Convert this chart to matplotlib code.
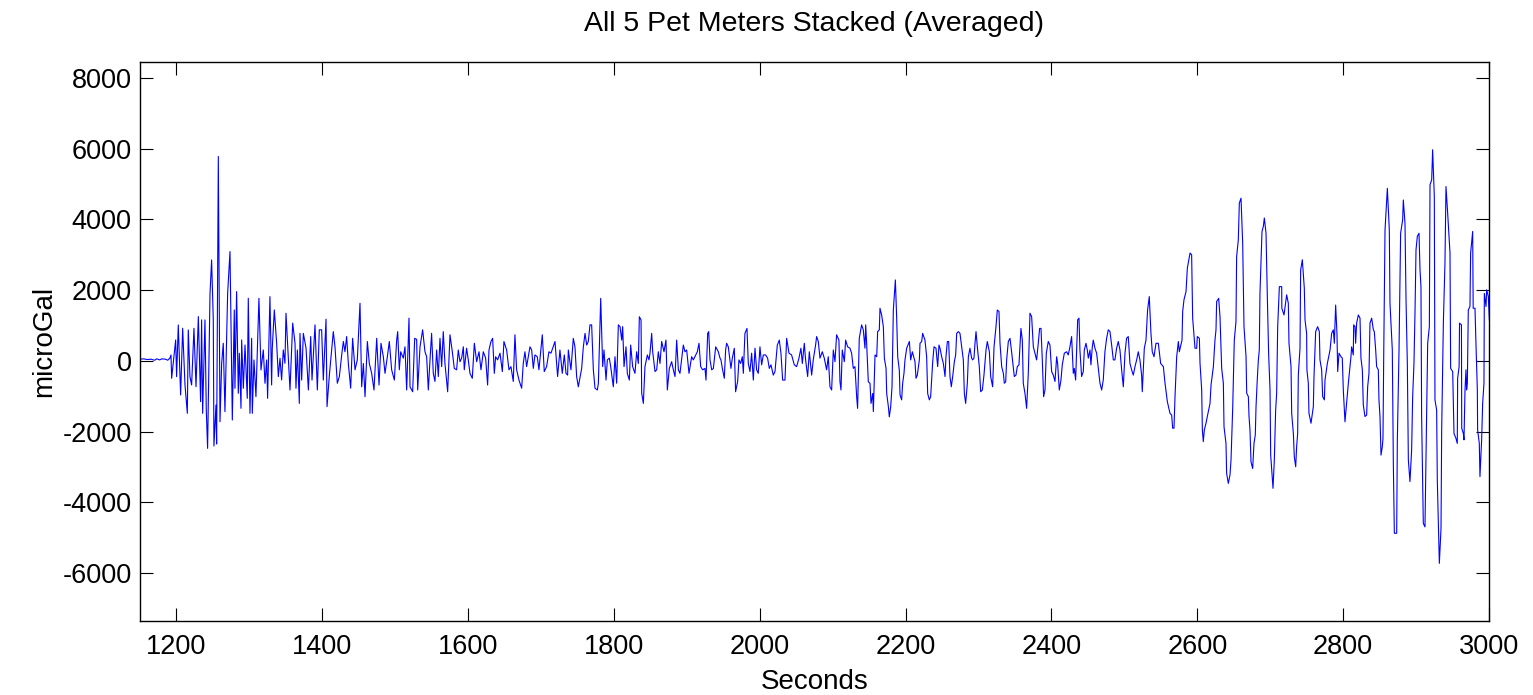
import numpy as np
import matplotlib
matplotlib.use("Agg")
import matplotlib.pyplot as plt

plt.rcParams['font.family'] = ['Liberation Sans', 'DejaVu Sans']
plt.rcParams['axes.unicode_minus'] = False

# (seconds, microGal) vertices, segment by segment
seg_start = [(1150, 50), (1155, 60), (1160, 40), (1165, 50), (1170, 20), (1173, 60), (1177, 30),
             (1180, 60), (1185, 50), (1188, 20), (1191, 80),
             (1192.5, 170), (1193.4, -490), (1197.0, 217), (1198.9, 594), (1200.2, -443), (1202.5, 1018),
             (1205.7, -962), (1208.5, 924), (1211.7, -679), (1214.9, -1480), (1216.2, 877), (1218.5, -443),
             (1220.8, -679), (1224.0, 924), (1226.8, -726), (1230.0, 1254), (1233.1, -1150), (1234.5, 1160),
             (1235.9, -1480), (1239.1, 1160), (1240.9, -1386), (1242.7, -2470), (1246.0, 1895), (1248.2, 2856),
             (1250.5, 1160), (1251.4, -2404), (1254.2, -1245), (1255.1, -2347), (1257.4, 5779), (1259.7, -1716),
             (1262.0, -66), (1264.2, 500), (1266.5, -1433), (1270.2, 1914), (1273.4, 3092), (1276.6, -1669),
             (1279.3, 1442), (1280.2, -773), (1282.5, 1961), (1284.8, -915), (1286.2, 217), (1288.5, -1339),
             (1289.4, 594), (1291.7, -773), (1294.0, 452), (1297.1, -1056), (1298.5, 1772), (1300.8, -1480),
             (1303.1, 641), (1304.0, -1480), (1306.3, 28), (1309.0, -1009), (1313.1, 1772), (1315.9, -255),
             (1319.1, 311), (1321.4, -632), (1323.7, 28), (1325.0, -1056), (1328.2, 1819), (1330.5, -679),
             (1331.4, 358), (1334.2, 1442), (1337.4, 500), (1339.7, -443), (1342.0, 75), (1344.2, -537),
             (1346.5, 311), (1348.8, -66)]

seg_1350 = [(1350.2, 1350), (1355.7, -820), (1359.4, 1070), (1362.6, 500), (1363.9, -770), (1365.8, 310),
            (1368.5, -1200), (1369.4, 780), (1371.7, -540), (1374.0, 780), (1377.7, 360), (1380.9, -820),
            (1384.1, 690), (1385.9, -540), (1390.0, 1020), (1393.2, -820), (1395.9, 880), (1399.1, 880),
            (1401.4, -540), (1405.1, 1180), (1406.5, -1290), (1409.7, -400), (1415.1, 830), (1417.4, 400),
            (1420.6, -630), (1423.4, -440), (1426.6, 170), (1428.9, 550), (1431.1, 260), (1433.4, 690),
            (1435.7, -70), (1438.9, -770), (1441.6, 640), (1444.9, -250), (1448.0, 30), (1451.7, 1630),
            (1454.0, -730), (1456.3, -70), (1458.6, -1010), (1461.8, 550), (1464.5, -70), (1467.7, -350),
            (1470.9, -820), (1474.6, 640), (1477.8, -680), (1480.5, 500), (1483.7, 120), (1486.0, -350),
            (1489.2, 120), (1491.9, 550), (1495.1, -250), (1498.8, -540), (1502.0, 590), (1503.4, 830),
            (1505.6, -250), (1507.5, 260), (1511.1, 80), (1513.4, 400), (1515.7, -820), (1518.9, 1210),
            (1520.3, -730), (1523.9, -870), (1526.7, 640), (1529.4, 610), (1530.8, -820), (1534.0, 400),
            (1537.6, 880), (1540.8, 260), (1543.1, 120), (1545.4, -820), (1547.7, 30)]

seg_1550 = [(1549.9, 780), (1552.2, -350), (1554.5, -580), (1556.8, 310), (1559.1, -440), (1561.4, 640),
            (1563.7, -160), (1565.9, 830), (1568.2, -70), (1571.9, -870), (1575.1, 740), (1578.3, 260),
            (1581.0, -210), (1584.2, -250), (1586.5, 310), (1588.8, -20), (1591.1, 80), (1593.4, 400),
            (1594.7, -250), (1597.9, 360), (1600.2, 30), (1602.5, -350), (1605.7, -490), (1608.5, 500),
            (1611.7, -20), (1614.9, 260), (1617.6, -250), (1620.8, 260), (1624.0, 80), (1626.7, -680),
            (1628.6, 310), (1631.3, 550), (1633.6, 640), (1635.9, -350), (1637.7, 120), (1640.4, 30),
            (1643.7, 220), (1646.9, -300), (1649.1, 550), (1652.8, 310), (1656.0, -250), (1658.7, -160),
            (1661.9, -580), (1664.2, 740), (1666.5, -250), (1669.7, -540), (1673.4, -770), (1675.6, -70),
            (1677.9, 260), (1680.2, -160), (1682.5, 120), (1684.8, 400), (1687.1, 310), (1689.4, -210),
            (1691.6, 170), (1694.8, 120), (1697.1, -250), (1701.7, 740), (1704.4, -300), (1707.6, -160),
            (1710.8, 260), (1713.6, 220), (1715.9, 360), (1719.1, 550), (1722.7, -440), (1725.9, 310),
            (1729.1, -350), (1731.9, 170), (1734.2, -350), (1736.4, -400), (1737.4, 310), (1741.0, -250),
            (1744.2, 640), (1746.5, 400)]

seg_1750 = [(1748.8, -440), (1751.1, -730), (1755.7, -210), (1758.0, 400), (1760.3, 780), (1762.6, 450),
            (1764.8, 550), (1767.1, 1020), (1769.4, 1020), (1771.7, -250), (1774.0, -770), (1777.2, -820),
            (1778.6, -630), (1781.8, 1770), (1784.5, -160), (1786.3, 310), (1789.1, -540), (1790.9, 30),
            (1793.6, 80), (1795.5, -160), (1799.1, -730), (1801.4, 120), (1803.7, -630), (1806.0, 1020),
            (1808.3, 970), (1810.6, 590), (1811.9, 970), (1813.8, -160), (1816.5, 400), (1818.3, -350),
            (1821.1, -540), (1822.9, 450), (1825.6, -160), (1828.8, -350), (1831.1, 260), (1833.4, -70),
            (1834.8, 1250), (1837.1, 1160), (1838.0, -910), (1840.3, -1200), (1842.5, -160), (1845.8, 170),
            (1848.0, 30), (1849.4, 220), (1851.7, 780), (1853.1, 260), (1856.3, -300), (1858.6, -250),
            (1860.8, 260), (1863.1, -70), (1865.4, 550), (1868.6, 260), (1871.3, 590), (1873.2, -820),
            (1875.9, -210), (1879.1, -20), (1881.4, -250), (1883.7, -440), (1886.0, 590), (1888.3, -250),
            (1890.5, -350), (1895.1, 450), (1897.4, 260), (1899.7, 310), (1902.9, -350), (1906.5, 120),
            (1908.8, 30), (1914.3, 260), (1916.6, 500), (1918.9, -160), (1921.6, -250), (1924.8, -210),
            (1926.2, -540), (1928.5, 780), (1929.9, 830), (1931.7, 30), (1934.0, -250), (1936.3, -210),
            (1939.5, 400), (1943.1, 260), (1945.4, 80)]

seg_1950 = [(1946.7, 30), (1948.6, -210), (1951.3, -490), (1953.1, 310), (1954.5, 500), (1956.8, 400),
            (1960.4, -210), (1962.3, 80), (1965.0, 360), (1966.8, -870), (1969.6, -580), (1971.4, 30),
            (1973.7, -70), (1976.0, 120), (1977.4, -350), (1979.6, 780), (1982.4, 920), (1984.2, -70),
            (1986.5, -300), (1988.8, 220), (1991.1, -540), (1993.4, 360), (1995.6, -250), (1997.9, -350),
            (2000.2, 400), (2002.5, -110), (2004.8, 170), (2008.0, 170), (2010.7, 80), (2013.0, -210),
            (2015.3, -110), (2018.5, -400), (2020.8, -300), (2024.0, 450), (2026.7, 590), (2029.0, 220),
            (2031.3, -540), (2034.5, -540), (2036.8, 640), (2040.0, 220), (2043.6, 170), (2047.3, -110),
            (2050.5, -160), (2053.7, 80), (2056.4, 360), (2058.3, -70), (2061.0, 500), (2062.8, 30),
            (2065.6, -440), (2067.9, 260), (2071.1, -400), (2073.3, 30), (2076.5, 450), (2077.9, 690),
            (2080.2, 550), (2082.5, 80), (2085.7, 260), (2088.4, 80), (2091.6, -250), (2093.9, 120),
            (2096.2, -730), (2098.5, -820), (2100.8, 310), (2103.1, -20), (2105.3, 740), (2108.5, 590),
            (2109.9, -580), (2111.3, -820), (2113.1, 310), (2115.9, -20), (2117.7, 590), (2120.4, 400),
            (2123.6, 360), (2125.9, 220), (2128.2, -210), (2130.5, -160), (2132.8, -1010), (2134.1, -1340),
            (2136.4, 640), (2139.6, 1020), (2141.9, 880), (2144.2, 360)]

seg_2145 = [(2145.2, 1020), (2146.5, 500), (2148.8, -590), (2151.1, -630), (2152.5, -1200), (2154.8, -920),
            (2155.7, -1430), (2158.0, 170), (2160.3, 120), (2161.6, 830), (2163.9, 880), (2164.8, 1490),
            (2167.1, 1300), (2169.4, 970), (2170.8, 80), (2173.1, -210), (2174.0, -920), (2176.3, -1290),
            (2177.6, -1580), (2179.5, -1290), (2181.3, -730), (2183.1, 1440), (2185.9, 2290), (2187.7, 1210),
            (2189.1, 120), (2191.3, -260), (2192.3, -960), (2194.5, -1100), (2195.9, -630), (2197.7, -350),
            (2199.1, 30), (2201.4, 360), (2205.1, 550), (2206.9, 30), (2209.2, 260), (2212.8, -20),
            (2214.2, -490), (2216.0, -400), (2218.8, 30), (2219.7, 500), (2222.0, 550), (2223.3, 780),
            (2226.5, 590), (2228.8, 120), (2230.2, -920), (2232.5, -1100), (2234.3, -1010), (2237.1, -20),
            (2238.9, 400), (2241.6, 360), (2243.9, -160), (2245.7, 450), (2247.1, 360), (2249.4, 120),
            (2251.7, -70), (2254.0, -440), (2255.3, 120), (2257.2, 550), (2259.0, 550), (2260.8, -440),
            (2262.6, -730), (2264.5, -440), (2266.8, -20), (2268.6, 170), (2270.0, 780), (2272.2, 830),
            (2274.5, 780), (2276.8, 400), (2279.1, 30), (2280.5, -920), (2282.3, -1200), (2284.6, -630),
            (2286.0, 120), (2288.2, 360), (2290.5, 80), (2291.9, 30), (2293.7, 80), (2295.1, 500),
            (2296.5, 830), (2298.3, 400), (2301.0, -160), (2302.9, -870), (2305.2, -820), (2307.4, -400),
            (2310.2, 310), (2312.0, 550), (2314.8, 260), (2316.6, -440), (2319.3, -730), (2321.2, 400),
            (2323.9, 970), (2325.7, 1440), (2328.0, 1400), (2329.4, 500), (2331.7, -160), (2334.0, -350),
            (2335.3, -630), (2337.2, -590), (2338.5, 30), (2340.8, 550), (2343.1, 640)]

seg_2345 = [(2345.3, 260), (2349.0, -440), (2351.3, -400), (2353.1, -160), (2355.4, -110), (2358.1, 920),
            (2360.0, 590), (2361.3, -630), (2363.6, -910), (2365.9, -1340), (2368.2, -350), (2370.5, 1350),
            (2372.8, 1250), (2375.1, 400), (2377.3, 220), (2379.6, 30), (2381.9, 500), (2383.7, 920),
            (2385.6, 920), (2387.4, 30), (2389.2, -1010), (2391.1, -820), (2392.9, 220), (2395.6, 550),
            (2397.9, 450), (2400.2, -300), (2402.5, -400), (2404.8, -580), (2407.1, 120), (2408.4, -70),
            (2410.7, -820), (2413.0, -540), (2414.8, -110), (2417.6, 220), (2420.8, 260), (2423.0, 170),
            (2425.3, 400), (2427.6, 690), (2429.9, -350), (2431.3, -210), (2433.1, -540), (2434.5, 310),
            (2435.9, 1160), (2437.7, 1210), (2439.0, 310), (2441.3, -440), (2443.6, -300), (2445.0, 310),
            (2447.3, 500), (2449.1, 310), (2450.5, 80), (2452.8, 310), (2454.1, -110), (2456.0, 400),
            (2457.3, 590), (2459.6, 360), (2461.9, 220), (2464.2, -210), (2466.5, -630), (2468.8, -820),
            (2471.0, -540), (2473.3, 260), (2475.6, 640), (2477.9, 880), (2480.2, 830), (2482.5, 450),
            (2484.8, 30), (2487.0, 30), (2489.3, 360), (2491.6, 550), (2493.9, 310), (2496.2, -250),
            (2498.5, -730), (2500.8, 220), (2503.0, 640), (2505.3, 690), (2507.6, -70), (2509.9, -250),
            (2512.2, -400), (2514.5, -160), (2516.8, 30), (2519.0, 260), (2521.3, 30), (2523.6, -400),
            (2524.5, -870), (2527.3, 360), (2529.6, 590), (2531.8, 1440), (2534.1, 1820), (2536.4, 780),
            (2538.2, 260)]

seg_2540 = [(2540.6, 120), (2543.3, 500), (2546.5, 500), (2549.7, -70), (2553.4, -160), (2555.7, -630),
            (2558.9, -1150), (2562.5, -1480), (2564.8, -1530), (2566.2, -1900), (2568.0, -1900), (2569.4, -1010),
            (2571.7, 120), (2574.0, 550), (2575.3, 260), (2579.0, 590), (2579.9, 1400), (2581.7, 1730),
            (2584.5, 1960), (2586.3, 2620), (2590.0, 3050), (2592.2, 3000), (2593.6, 1210), (2596.8, 360),
            (2599.1, 360), (2600.0, 690), (2602.8, 640), (2603.7, -70), (2606.0, -820), (2606.9, -1950),
            (2608.2, -2280), (2609.6, -1950), (2611.9, -1760), (2613.7, -1570), (2617.4, -1200), (2618.8, -680),
            (2622.0, -160), (2624.2, 590), (2625.6, 880), (2626.5, 1680), (2629.3, 1770), (2631.1, 1250),
            (2633.4, -210), (2635.7, -630), (2636.6, -1860), (2639.3, -2330), (2640.2, -3180), (2642.5, -3460),
            (2644.8, -3220), (2646.2, -2800), (2648.5, -1340), (2650.7, 590), (2653.0, 1110), (2653.9, 2950),
            (2656.2, 3420), (2657.6, 4460), (2659.9, 4600), (2662.2, 3330), (2664.0, 970), (2666.8, 120),
            (2667.7, -910), (2670.0, -1010), (2670.9, -1570), (2672.2, -1950), (2673.6, -2850), (2675.9, -3040),
            (2677.7, -2330), (2679.5, -2090), (2680.5, -1290), (2682.3, -490), (2683.7, 30), (2685.0, 310),
            (2685.9, 1910), (2687.3, 2760), (2688.7, 3660), (2690.5, 3800), (2691.9, 4040), (2694.2, 3610),
            (2696.0, 1820), (2697.8, 200)]

seg_2700 = [(2699.7, -820), (2700.6, -2660), (2703.8, -3600), (2705.6, -2800), (2707.4, -1390), (2708.8, -910),
            (2710.2, 970), (2712.5, 2100), (2715.7, 2100), (2715.9, 1490), (2718.9, 1300), (2722.5, 1870),
            (2724.8, 1630), (2725.7, 500), (2728.5, -160), (2729.4, -1480), (2731.7, -2050), (2733.0, -2710),
            (2734.9, -2990), (2736.2, -2420), (2737.6, -2050), (2738.5, -400), (2740.8, 360), (2741.7, 2570),
            (2744.0, 2860), (2746.7, 2060), (2747.7, 1160), (2749.9, 780), (2750.3, -250), (2752.2, -630),
            (2753.1, -1480), (2755.9, -1760), (2759.1, -1290), (2760.0, -440), (2762.3, 830), (2765.0, 970),
            (2767.3, 830), (2768.2, 30), (2770.5, -250), (2771.9, -1010), (2774.2, -1100), (2775.1, -540),
            (2778.3, -70), (2782.0, 310), (2784.2, 780), (2786.5, 880), (2787.9, 500), (2789.7, 1580),
            (2791.5, 780), (2792.5, -300), (2794.3, 220), (2797.0, 120), (2798.8, 80), (2800.2, -820),
            (2802.5, -1720), (2804.3, -1290), (2807.1, -630), (2810.7, 120), (2811.6, 400), (2813.9, 170),
            (2814.4, 1020), (2816.2, 970), (2817.1, 500), (2818.5, 1070), (2820.8, 1300), (2823.1, 1210),
            (2824.4, 80), (2826.3, -250), (2827.6, -1240), (2829.9, -1570), (2832.2, -1530), (2833.6, -730),
            (2835.4, -350), (2836.8, 1070), (2839.1, 1210), (2841.4, 880), (2842.7, 830), (2844.6, 310),
            (2845.9, -160), (2848.2, -250), (2849.1, -1100), (2850.5, -1570), (2851.9, -2660), (2853.7, -2420),
            (2854.6, -2200)]

seg_2855 = [(2855.6, 120), (2857.4, 3700), (2860.6, 4880), (2863.3, 3700), (2864.2, 1630), (2867.4, 310),
            (2868.8, -2890), (2870.2, -4870), (2873.4, -4870), (2874.3, -2230), (2876.6, 310), (2878.8, 3610),
            (2881.6, 3990), (2882.5, 4550), (2884.8, 3890), (2886.2, 1730), (2888.0, -70), (2889.4, -2800),
            (2891.6, -3410), (2893.9, -2520), (2895.3, -1010), (2897.1, -70), (2898.5, 1350), (2899.9, 3140),
            (2901.7, 3520), (2904.0, 3610), (2905.4, 2570), (2906.7, 2100), (2907.6, -1570), (2909.9, -4590),
            (2912.2, -4690), (2914.5, -1390), (2915.9, 500), (2918.2, 970), (2919.1, 4980), (2921.4, 5120),
            (2922.7, 5970), (2925.0, 4650), (2925.9, -1100), (2928.2, -1390), (2929.1, -3370), (2931.9, -5720),
            (2934.2, -4730), (2935.1, -1950), (2937.4, 1070), (2939.6, 2760), (2941.0, 4930), (2943.3, 4180),
            (2945.1, 3520), (2946.5, 3050), (2947.4, -210), (2950.2, -300), (2952.0, -2050), (2954.7, -2190),
            (2956.5, -2330), (2957.0, -490), (2959.0, -160), (2959.6, 1070), (2962.2, 1020), (2962.6, -1900),
            (2964.8, -2050), (2965.7, -2230), (2967.1, -820), (2968.4, -250), (2969.3, -820), (2970.3, -630),
            (2971.6, 1440), (2973.9, 1540), (2974.8, 3050), (2977.6, 3660), (2978.3, 1490), (2980.8, 1490),
            (2982.1, 500), (2984.0, -820), (2984.4, -1950), (2986.7, -2330), (2987.6, -3270), (2989.9, -2230),
            (2991.3, -1200), (2993.1, -630), (2993.6, 1910), (2995.9, 1540), (2996.8, 2010), (2999.1, 1820),
            (3000.5, 1160)]

segments = [seg_start, seg_1350, seg_1550, seg_1750, seg_1950, seg_2145, seg_2345, seg_2540, seg_2700, seg_2855]
seconds = np.array([p[0] for s in segments for p in s])
microgal = np.array([p[1] for s in segments for p in s])

x_ticks = [1200, 1400, 1600, 1800, 2000, 2200, 2400, 2600, 2800, 3000]
y_ticks = [-6000, -4000, -2000, 0, 2000, 4000, 6000, 8000]

fig = plt.figure(figsize=(15.33, 6.95), dpi=100)
ax = fig.add_axes([140 / 1533, 74 / 695, 1349 / 1533, 559 / 695])
ax.plot(seconds, microgal, color='#0000ff', linewidth=0.8)
ax.set_xlim(1150, 3000)
ax.set_ylim(-7350, 8450)
ax.set_xticks(x_ticks)
ax.set_yticks(y_ticks)
ax.tick_params(direction='in', length=9.5, width=0.8, top=True, right=True, labelsize=19.5, pad=6)
ax.tick_params(axis='x', pad=9)
for sp in ax.spines.values():
    sp.set_linewidth(1.0)
ax.set_title('All 5 Pet Meters Stacked (Averaged)', fontsize=20.5, pad=22)
ax.set_xlabel('Seconds', fontsize=20, labelpad=7)
ax.set_ylabel('microGal', fontsize=20, labelpad=4)
fig.savefig('out.png', dpi=100)
